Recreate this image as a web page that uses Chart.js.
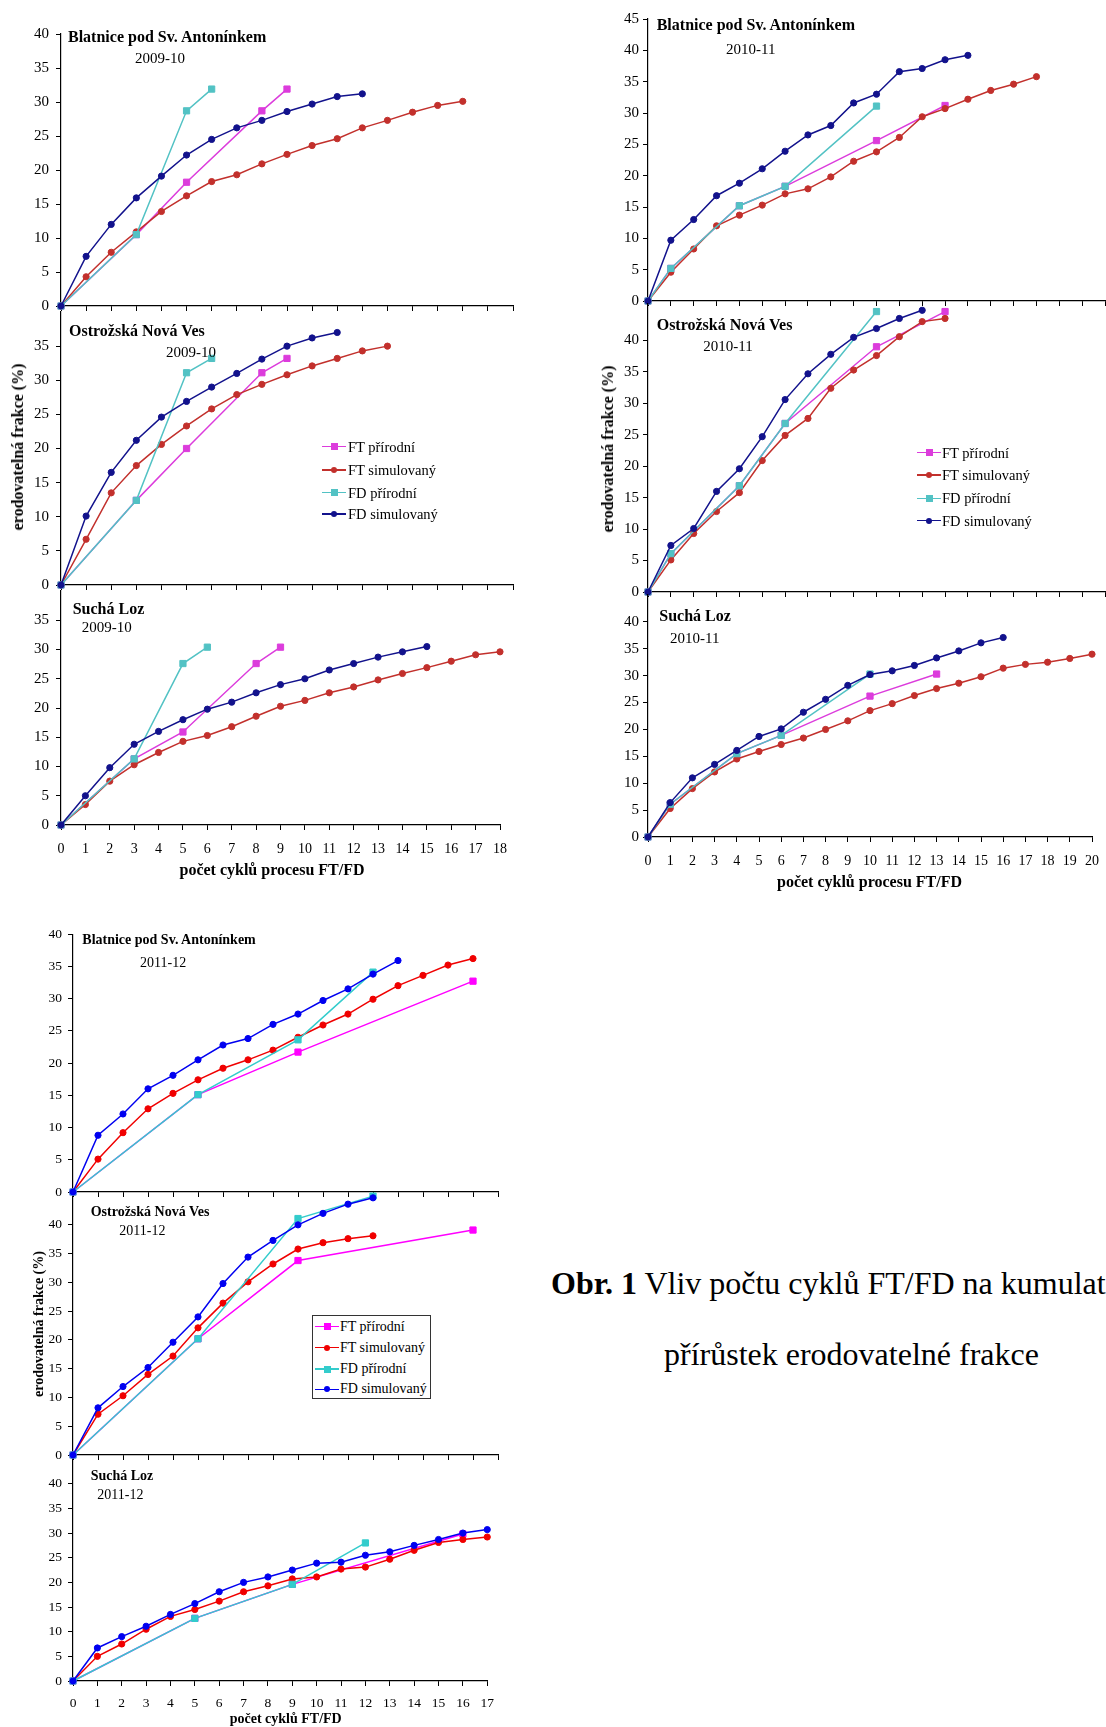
<!DOCTYPE html>
<html>
<head>
<meta charset="utf-8">
<script src="https://cdn.jsdelivr.net/npm/chart.js@4"></script>
<style>
  body { margin: 0; width: 1106px; height: 1727px; overflow: hidden; background: #fff; position: relative;
         font-family: 'Liberation Serif', 'Times New Roman', serif; color: #000; }
  .t { position: absolute; white-space: nowrap; line-height: 1; }
  canvas { position: absolute; }
</style>
</head>
<body>
<script>
const seriesNames = ['FT přírodní', 'FT simulovaný', 'FD přírodní', 'FD simulovaný'];

// natural (přírodní) series are measured only at some cycles -> x / y pairs
// simulated series have a value for every cycle starting at 0

// 2009-10
const blat0910FtPrirX = [0, 3, 5, 8, 9];
const blat0910FtPrirY = [0, 10.5, 18.2, 28.7, 31.9];
const blat0910FtSim = [0, 4.3, 7.9, 10.9, 13.9, 16.2, 18.3, 19.3, 20.9, 22.3, 23.6, 24.6, 26.2, 27.3, 28.5, 29.5, 30.1];
const blat0910FdPrirX = [0, 3, 5, 6];
const blat0910FdPrirY = [0, 10.5, 28.7, 31.9];
const blat0910FdSim = [0, 7.3, 12.0, 15.9, 19.1, 22.2, 24.5, 26.2, 27.3, 28.6, 29.7, 30.8, 31.2];

const ostr0910FtPrirX = [0, 3, 5, 8, 9];
const ostr0910FtPrirY = [0, 12.4, 20.0, 31.1, 33.2];
const ostr0910FtSim = [0, 6.7, 13.5, 17.5, 20.6, 23.3, 25.8, 27.9, 29.4, 30.8, 32.1, 33.2, 34.3, 35.0];
const ostr0910FdPrirX = [0, 3, 5, 6];
const ostr0910FdPrirY = [0, 12.4, 31.1, 33.2];
const ostr0910FdSim = [0, 10.1, 16.5, 21.2, 24.6, 26.9, 29.0, 31.0, 33.1, 35.0, 36.2, 37.0];

const such0910FtPrirX = [0, 3, 5, 8, 9];
const such0910FtPrirY = [0, 11.3, 15.9, 27.6, 30.4];
const such0910FtSim = [0, 3.5, 7.5, 10.3, 12.4, 14.3, 15.3, 16.8, 18.6, 20.3, 21.3, 22.6, 23.6, 24.8, 25.9, 26.9, 28.0, 29.1, 29.6];
const such0910FdPrirX = [0, 3, 5, 6];
const such0910FdPrirY = [0, 11.3, 27.6, 30.4];
const such0910FdSim = [0, 5.0, 9.8, 13.8, 16.0, 18.0, 19.8, 21.0, 22.6, 24.0, 25.0, 26.5, 27.6, 28.7, 29.6, 30.5];

// 2010-11
const blat1011FtPrirX = [0, 1, 4, 6, 10, 13];
const blat1011FtPrirY = [0, 5.2, 15.2, 18.3, 25.6, 31.2];
const blat1011FtSim = [0, 4.6, 8.3, 12.0, 13.7, 15.3, 17.1, 17.9, 19.8, 22.3, 23.8, 26.1, 29.4, 30.7, 32.2, 33.6, 34.6, 35.8];
const blat1011FdPrirX = [0, 1, 4, 6, 10];
const blat1011FdPrirY = [0, 5.2, 15.2, 18.3, 31.1];
const blat1011FdSim = [0, 9.7, 13.0, 16.8, 18.8, 21.1, 23.9, 26.5, 28.0, 31.6, 33.0, 36.6, 37.1, 38.5, 39.2];

const ostr1011FtPrirX = [0, 1, 4, 6, 10, 13];
const ostr1011FtPrirY = [0, 6.1, 16.9, 26.8, 39.0, 44.6];
const ostr1011FtSim = [0, 5.1, 9.3, 12.8, 15.8, 20.9, 24.9, 27.6, 32.4, 35.3, 37.6, 40.6, 43.0, 43.5];
const ostr1011FdPrirX = [0, 1, 4, 6, 10];
const ostr1011FdPrirY = [0, 6.1, 16.9, 26.8, 44.6];
const ostr1011FdSim = [0, 7.4, 10.1, 16.0, 19.6, 24.7, 30.6, 34.7, 37.8, 40.5, 41.9, 43.5, 44.8];

const such1011FtPrirX = [0, 1, 4, 6, 10, 13];
const such1011FtPrirY = [0, 6.1, 15.5, 18.9, 26.2, 30.3];
const such1011FtSim = [0, 5.3, 9.0, 12.1, 14.5, 15.9, 17.2, 18.4, 20.0, 21.6, 23.5, 24.8, 26.3, 27.6, 28.6, 29.8, 31.4, 32.1, 32.5, 33.2, 34.0];
const such1011FdPrirX = [0, 1, 4, 6, 10];
const such1011FdPrirY = [0, 6.1, 15.5, 18.9, 30.3];
const such1011FdSim = [0, 6.4, 11.0, 13.5, 16.1, 18.7, 20.1, 23.2, 25.6, 28.2, 30.2, 30.9, 31.9, 33.3, 34.6, 36.1, 37.1];

// 2011-12
const blat1112FtPrirX = [0, 5, 9, 16];
const blat1112FtPrirY = [0, 15.1, 21.7, 32.7];
const blat1112FtSim = [0, 5.1, 9.2, 12.9, 15.3, 17.4, 19.2, 20.5, 22.0, 24.0, 25.9, 27.6, 29.9, 32.0, 33.6, 35.2, 36.2];
const blat1112FdPrirX = [0, 5, 9, 12];
const blat1112FdPrirY = [0, 15.1, 23.6, 34.1];
const blat1112FdSim = [0, 8.8, 12.1, 16.0, 18.1, 20.5, 22.8, 23.8, 26.0, 27.6, 29.7, 31.5, 33.8, 35.9];

const ostr1112FtPrirX = [0, 5, 9, 16];
const ostr1112FtPrirY = [0, 20.2, 33.8, 39.1];
const ostr1112FtSim = [0, 7.1, 10.3, 14.0, 17.2, 22.1, 26.4, 30.1, 33.2, 35.8, 36.9, 37.6, 38.1];
const ostr1112FdPrirX = [0, 5, 9, 12];
const ostr1112FdPrirY = [0, 20.2, 41.1, 45.0];
const ostr1112FdSim = [0, 8.2, 11.9, 15.2, 19.6, 24.0, 29.8, 34.4, 37.3, 40.0, 42.0, 43.6, 44.7];

const such1112FtPrirX = [0, 5, 9, 16];
const such1112FtPrirY = [0, 12.7, 19.6, 29.8];
const such1112FtSim = [0, 5.0, 7.5, 10.5, 13.1, 14.5, 16.2, 18.1, 19.3, 20.7, 21.1, 22.7, 23.1, 24.7, 26.5, 28.1, 28.7, 29.2];
const such1112FdPrirX = [0, 5, 9, 12];
const such1112FdPrirY = [0, 12.7, 19.6, 28.0];
const such1112FdSim = [0, 6.7, 9.0, 11.1, 13.5, 15.7, 18.1, 20.0, 21.1, 22.5, 23.9, 24.1, 25.5, 26.2, 27.5, 28.7, 30.0, 30.7];

const oldColors = ['#dc3cdc', '#c2302c', '#52c2c4', '#12128c'];
const newColors = ['#ff00ff', '#f00000', '#33cccc', '#0000f0'];
const FONT = "'Liberation Serif', 'Times New Roman', serif";

function seq(values) { return values.map((v, i) => ({ x: i, y: v })); }
function pairs(xs, ys) { return xs.map((x, i) => ({ x: x, y: ys[i] })); }

function panel(p) {
  const PL = 60, PT = 10, PR = 14, PB = 42;
  const left = Math.round(p.left), top = Math.round(p.top);
  const w = Math.round(p.right) - left + PL + PR;
  const h = Math.round(p.bottom) - top + PT + PB;
  const c = document.createElement('canvas');
  c.width = w; c.height = h;
  c.style.left = (left - PL) + 'px';
  c.style.top = (top - PT) + 'px';
  document.body.appendChild(c);
  const col = p.colors;
  const mk = (i, data, style) => ({
    label: seriesNames[i], data: data,
    borderColor: col[i], backgroundColor: col[i],
    pointBackgroundColor: col[i], pointBorderColor: col[i],
    borderWidth: 1.5, pointBorderWidth: 1,
    pointStyle: style, pointRadius: style === 'rect' ? 4.4 : 3.1,
    tension: 0, clip: false, order: 4 - i
  });
  new Chart(c, {
    type: 'line',
    data: {
      datasets: [
        mk(0, pairs(p.data[0], p.data[1]), 'rect'),
        mk(1, seq(p.data[2]), 'circle'),
        mk(2, pairs(p.data[3], p.data[4]), 'rect'),
        mk(3, seq(p.data[5]), 'circle')
      ]
    },
    options: {
      responsive: false, animation: false, devicePixelRatio: 1,
      layout: { padding: { left: 0, top: PT, right: PR, bottom: 0 } },
      plugins: { legend: { display: false }, tooltip: { enabled: false } },
      scales: {
        x: {
          type: 'linear', min: 0, max: p.xMax,
          afterFit: s => { s.height = PB; },
          border: { color: '#000', width: 1.2 },
          grid: { drawOnChartArea: false, color: '#000', tickLength: 5 },
          ticks: { display: !!p.xLabels, stepSize: 1, autoSkip: false, maxRotation: 0,
                   color: '#000', padding: p.xPad || 10, font: { family: FONT, size: p.xFont || 14 } }
        },
        y: {
          min: 0, max: p.yMax,
          afterFit: s => { s.width = PL; },
          afterBuildTicks: s => { s.ticks = s.ticks.filter(t => t.value <= p.labelMax); },
          border: { color: '#000', width: 1.2 },
          grid: { drawOnChartArea: false, color: '#000', tickLength: 5 },
          ticks: { stepSize: 5, color: '#000', padding: p.yPad, font: { family: FONT, size: p.yFont } }
        }
      }
    }
  });
}

function text(str, x, y, size, opts) {
  opts = opts || {};
  const d = document.createElement('div');
  d.className = 't';
  d.innerHTML = str;
  d.style.fontSize = size + 'px';
  if (opts.bold) d.style.fontWeight = 'bold';
  d.style.left = x + 'px';
  d.style.top = y + 'px';
  if (opts.rotate) d.style.transform = 'translate(-50%,-50%) rotate(-90deg)';
  else if (opts.center) d.style.transform = 'translate(-50%,-50%)';
  else d.style.transform = 'translateY(-50%)';
  document.body.appendChild(d);
  return d;
}

function legend(x, rows, size, colors, textGap) {
  seriesNames.forEach((name, i) => {
    const y = rows[i];
    const line = document.createElement('div');
    line.style.cssText = `position:absolute;left:${x}px;top:${y - 0.75}px;width:24px;height:1.5px;background:${colors[i]}`;
    document.body.appendChild(line);
    const m = document.createElement('div');
    const sq = i % 2 === 0;
    const s = sq ? 7 : 6;
    m.style.cssText = `position:absolute;left:${x + 12 - s / 2}px;top:${y - s / 2}px;width:${s}px;height:${s}px;background:${colors[i]};border-radius:${sq ? 0 : 50}%`;
    document.body.appendChild(m);
    text(name, x + 24 + textGap, y, size);
  });
}

// ---- group 2009-10 ----
const g1 = { colors: oldColors, yFont: 15, yPad: 7, xMax: 18, xFont: 14, xPad: 11 };
panel(Object.assign({}, g1, { left: 61, right: 513, top: 28.3, bottom: 306, yMax: 40, labelMax: 40,
  data: [blat0910FtPrirX, blat0910FtPrirY, blat0910FtSim, blat0910FdPrirX, blat0910FdPrirY, blat0910FdSim] }));
panel(Object.assign({}, g1, { left: 61, right: 513, top: 306, bottom: 585.3, yMax: 40, labelMax: 35,
  data: [ostr0910FtPrirX, ostr0910FtPrirY, ostr0910FtSim, ostr0910FdPrirX, ostr0910FdPrirY, ostr0910FdSim] }));
panel(Object.assign({}, g1, { left: 61, right: 504, top: 585.3, bottom: 825.3, yMax: 40, labelMax: 35, xLabels: true,
  data: [such0910FtPrirX, such0910FtPrirY, such0910FtSim, such0910FdPrirX, such0910FdPrirY, such0910FdSim] }));

text('Blatnice pod Sv. Antonínkem', 68, 36.7, 16, { bold: true });
text('2009-10', 135, 57.7, 15);
text('Ostrožská Nová Ves', 69, 330.7, 16, { bold: true });
text('2009-10', 166, 351.7, 15);
text('Suchá Loz', 72.7, 609.3, 16, { bold: true });
text('2009-10', 81.7, 627.3, 15);
text('erodovatelná frakce (%)', 18.3, 446.7, 16, { bold: true, rotate: true });
text('počet cyklů procesu FT/FD', 272, 870, 16, { bold: true, center: true });
legend(322, [446.7, 470, 492.7, 514], 14.5, oldColors, 2);

// ---- group 2010-11 ----
const g2 = { colors: oldColors, yFont: 15, yPad: 4, xMax: 20, xFont: 14, xPad: 11 };
panel(Object.assign({}, g2, { left: 648.3, right: 1105, top: 16, bottom: 300.7, yMax: 45, labelMax: 45,
  data: [blat1011FtPrirX, blat1011FtPrirY, blat1011FtSim, blat1011FdPrirX, blat1011FdPrirY, blat1011FdSim] }));
panel(Object.assign({}, g2, { left: 648.3, right: 1105, top: 300.7, bottom: 591.7, yMax: 45.8, labelMax: 40,
  data: [ostr1011FtPrirX, ostr1011FtPrirY, ostr1011FtSim, ostr1011FdPrirX, ostr1011FdPrirY, ostr1011FdSim] }));
panel(Object.assign({}, g2, { left: 648.3, right: 1096, top: 591.7, bottom: 836.7, yMax: 45, labelMax: 40, xLabels: true,
  data: [such1011FtPrirX, such1011FtPrirY, such1011FtSim, such1011FdPrirX, such1011FdPrirY, such1011FdSim] }));

text('Blatnice pod Sv. Antonínkem', 656.7, 25, 16, { bold: true });
text('2010-11', 726, 49.3, 15);
text('Ostrožská Nová Ves', 656.7, 325, 16, { bold: true });
text('2010-11', 703.3, 345.7, 15);
text('Suchá Loz', 659.3, 616, 16, { bold: true });
text('2010-11', 670, 638.3, 15);
text('erodovatelná frakce (%)', 608.3, 449, 16, { bold: true, rotate: true });
text('počet cyklů procesu FT/FD', 869.5, 881.7, 16, { bold: true, center: true });
legend(917, [452.7, 475, 498.3, 520.7], 14.5, oldColors, 1);

// ---- group 2011-12 ----
const g3 = { colors: newColors, yFont: 13.5, yPad: 6, xMax: 17, xFont: 13.5, xPad: 9 };
panel(Object.assign({}, g3, { left: 72.7, right: 497.7, top: 930, bottom: 1191.7, yMax: 40, labelMax: 40,
  data: [blat1112FtPrirX, blat1112FtPrirY, blat1112FtSim, blat1112FdPrirX, blat1112FdPrirY, blat1112FdSim] }));
panel(Object.assign({}, g3, { left: 72.7, right: 497.7, top: 1191.7, bottom: 1455, yMax: 45, labelMax: 40,
  data: [ostr1112FtPrirX, ostr1112FtPrirY, ostr1112FtSim, ostr1112FdPrirX, ostr1112FdPrirY, ostr1112FdSim] }));
panel(Object.assign({}, g3, { left: 73.3, right: 488.7, top: 1455, bottom: 1680.7, yMax: 45, labelMax: 40, xLabels: true,
  data: [such1112FtPrirX, such1112FtPrirY, such1112FtSim, such1112FdPrirX, such1112FdPrirY, such1112FdSim] }));

text('Blatnice pod Sv. Antonínkem', 82.3, 940, 14, { bold: true });
text('2011-12', 140, 962.7, 14);
text('Ostrožská Nová Ves', 90.7, 1212.3, 14, { bold: true });
text('2011-12', 119.3, 1230.7, 14);
text('Suchá  Loz', 90.7, 1475.7, 14, { bold: true });
text('2011-12', 97.3, 1495, 14);
text('erodovatelná frakce (%)', 39.3, 1324, 14, { bold: true, rotate: true });
text('počet cyklů FT/FD', 285.7, 1719, 14, { bold: true, center: true });

const box = document.createElement('div');
box.style.cssText = 'position:absolute;left:312px;top:1315px;width:117px;height:82px;border:1px solid #333;background:#fff';
document.body.appendChild(box);
legend(315, [1326.7, 1347.7, 1369, 1389.3], 14, newColors, 1);

// caption (runs past the right edge, as in the source page)
text('<b>Obr. 1</b> Vliv počtu cyklů FT/FD na kumulativní', 551, 1283.3, 32);
text('přírůstek erodovatelné frakce', 664, 1354, 32);
</script>
</body>
</html>
